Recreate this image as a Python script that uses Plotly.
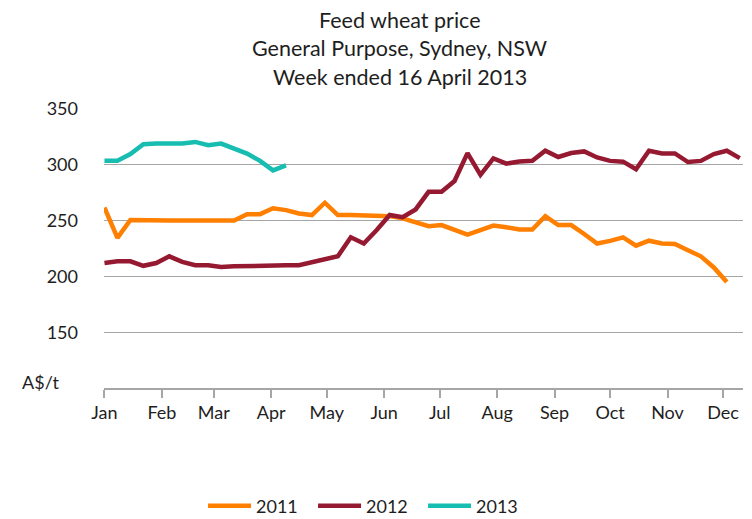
import plotly.graph_objects as go
import pandas as pd

# ---- data (weekly prices, A$/t) ----
series_names = ["2011", "2012", "2013"]
price_2011 = [261.7, 234.5, 250.5, 250, 250, 250, 250, 250, 250, 250, 250,
              255.8, 255.8, 261, 259.4, 256.4, 255, 266, 255, 255, 255, 255,
              254, 252, 249, 245, 246, 241.5, 237.5, 241.5, 245.5, 244, 242,
              242, 254, 246, 246, 238, 229.5, 231.8, 235, 227.5, 232, 229.5,
              229, 223.5, 218, 208, 195]
price_2012 = [212, 213.5, 213.5, 209.5, 212, 218, 213, 210, 210, 208.5, 209,
              209.5, 210, 210, 210, 210, 213, 215.5, 218, 235, 229.5, 241.5,
              255, 253, 260, 275.8, 275.8, 285.5, 310.5, 291, 305.7, 301, 303,
              303.6, 312.6, 307, 310.5, 312, 306.6, 303.5, 302.8, 296, 312.6,
              310.2, 310.2, 302.5, 303.5, 309.6, 312.6, 306]
price_2013 = [303.6, 303.6, 309.6, 318.5, 319, 319, 319, 320.5, 317.5, 319,
              315, 310, 303.5, 295, 299.5]
series_colors = ["#FF7F00", "#951A31", "#17BDB1"]

month_ticks = pd.date_range("2011-01-01", periods=12, freq="MS")
y_ticks = [100, 150, 200, 250, 300, 350]
y_ticktext = ["", "150", "200", "250", "300", "350"]

def week_dates(n):
    # all years overlaid on a common calendar year
    return pd.date_range("2011-01-01", periods=n, freq="7D")

FONT = "Lato"
TXT = "#1e1e1e"
GRID = "#A6A6A6"

fig = go.Figure()
for name, vals, col in zip(series_names, [price_2011, price_2012, price_2013], series_colors):
    fig.add_trace(go.Scatter(x=week_dates(len(vals)), y=vals, mode="lines", name=name,
                             line=dict(color=col, width=4.5)))

fig.update_layout(
    width=744, height=511,
    margin=dict(l=96, r=9, t=101, b=131, autoexpand=False),
    paper_bgcolor="white", plot_bgcolor="white",
    font=dict(family=FONT, size=18, color=TXT),
    showlegend=True,
    legend=dict(orientation="h", x=0.155, xanchor="left",
                yref="container", y=1 - 498 / 511, yanchor="middle",
                itemwidth=43,
                entrywidth=52, entrywidthmode="pixels", font=dict(size=18, color=TXT),
                bgcolor="rgba(0,0,0,0)"),
    xaxis=dict(type="date", range=["2010-12-31 18:00", "2011-12-11 18:00"],
               tickvals=list(month_ticks), tickformat="%b",
               showgrid=False, showline=True, linecolor=GRID, linewidth=1.5,
               ticks="outside", ticklen=8, tickcolor=GRID, tickwidth=1.5,
               zeroline=False, fixedrange=True),
    yaxis=dict(range=[100, 350], tickvals=y_ticks, ticktext=y_ticktext,
               showgrid=True, gridcolor=GRID, gridwidth=1, showline=False,
               ticks="", ticklabelstandoff=25, zeroline=False, fixedrange=True),
)

title_lines = ["Feed wheat price", "General Purpose, Sydney, NSW", "Week ended 16 April 2013"]
for line, yp in zip(title_lines, [1.318, 1.2176, 1.1136]):
    fig.add_annotation(text=line, xref="paper", yref="paper", x=0.463, y=yp,
                       xanchor="center", yanchor="middle", showarrow=False, borderpad=0,
                       font=dict(family=FONT, size=21.5, color=TXT))

fig.add_annotation(text="A$/t", xref="paper", yref="y", x=-0.066, y=100, yshift=6,
                   xanchor="right", yanchor="middle", showarrow=False,
                   font=dict(family=FONT, size=18, color=TXT))

fig.write_html("out.html")
